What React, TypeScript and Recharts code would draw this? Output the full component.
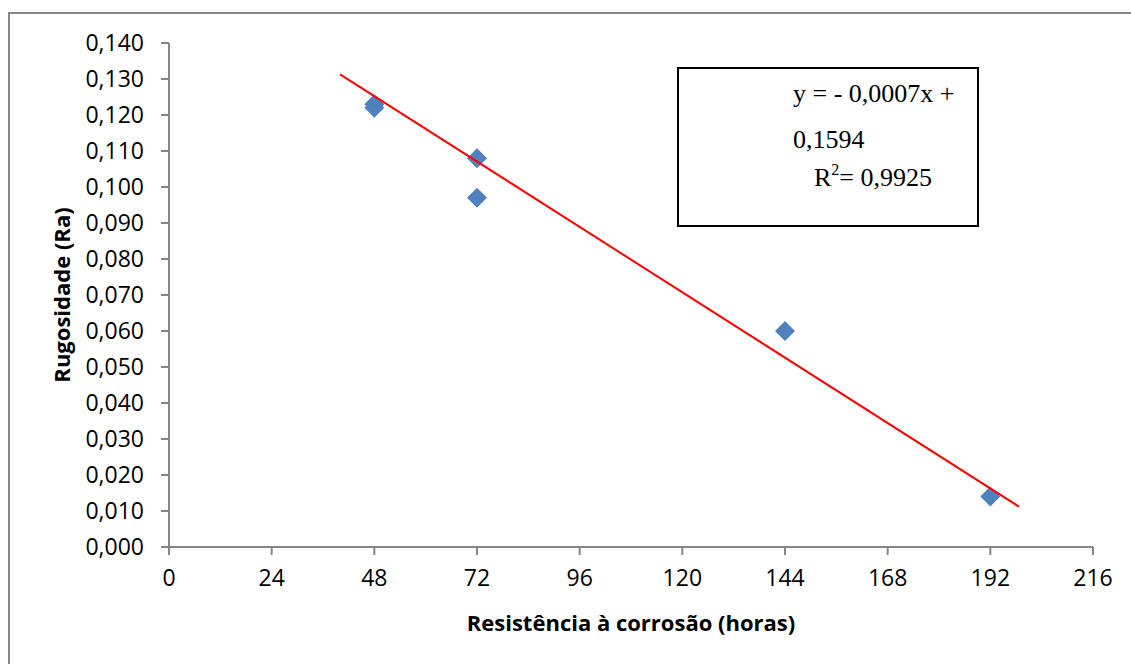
import React from 'react';
import { ScatterChart, Scatter, XAxis, YAxis } from 'recharts';

const hours = [48, 48, 72, 72, 144, 192];
const roughness = [0.123, 0.122, 0.108, 0.097, 0.06, 0.014];
const trendX = [40, 198.7];
const trendY = [0.1313, 0.0112];
const xTicks = [0, 24, 48, 72, 96, 120, 144, 168, 192, 216];
const yTicks = [0, 0.01, 0.02, 0.03, 0.04, 0.05, 0.06, 0.07, 0.08, 0.09, 0.1, 0.11, 0.12, 0.13, 0.14];

const points = hours.map((x, i) => ({ x, y: roughness[i] }));
const trend = trendX.map((x, i) => ({ x, y: trendY[i] }));

const AXIS = '#868686';
const FONT = '"Open Sans", "Noto Sans", sans-serif';

const Diamond = (props: any) => {
  const { cx, cy } = props;
  if (cx == null || cy == null) return null;
  const r = 10;
  return (
    <polygon
      points={`${cx},${cy - r} ${cx + r},${cy} ${cx},${cy + r} ${cx - r},${cy}`}
      fill="#4F81BD"
    />
  );
};

const YLabel = (props: any) => {
  const { viewBox } = props;
  const cx = viewBox.x + 61;
  const cy = viewBox.y + viewBox.height / 2;
  return (
    <text
      x={cx}
      y={cy}
      transform={`rotate(-90, ${cx}, ${cy})`}
      textAnchor="middle"
      dominantBaseline="central"
      fontFamily={FONT}
      fontWeight="bold"
      fontSize={22}
      fill="#000"
    >
      Rugosidade (Ra)
    </text>
  );
};

const XLabel = (props: any) => {
  const { viewBox } = props;
  const cx = viewBox.x + viewBox.width / 2;
  const cy = viewBox.y + 75;
  return (
    <text
      x={cx}
      y={cy}
      textAnchor="middle"
      dominantBaseline="central"
      fontFamily={FONT}
      fontWeight="bold"
      fontSize={22}
      fill="#000"
    >
      Resistência à corrosão (horas)
    </text>
  );
};

export default function App() {
  return (
    <div
      style={{
        position: 'fixed',
        left: 0,
        top: 0,
        width: 1131,
        height: 664,
        background: '#fff',
        overflow: 'hidden',
      }}
    >
      <div
        style={{
          position: 'absolute',
          left: 8,
          top: 12,
          width: 1200,
          height: 700,
          borderLeft: `2px solid ${AXIS}`,
          borderTop: `2px solid ${AXIS}`,
          boxSizing: 'border-box',
        }}
      />
      <div style={{ position: 'absolute', left: 0, top: 0 }}>
        <ScatterChart width={1131} height={664} margin={{ top: 43, right: 38, bottom: 0, left: 0 }}>
          <XAxis
            type="number"
            dataKey="x"
            domain={[0, 216]}
            ticks={xTicks}
            interval={0}
            height={117}
            axisLine={{ stroke: AXIS, strokeWidth: 2 }}
            tickLine={{ stroke: AXIS, strokeWidth: 2 }}
            tickSize={8}
            tickMargin={15}
            tick={{ fill: '#000', fontSize: 23, fontFamily: FONT }}
            label={<XLabel />}
            allowDataOverflow
          />
          <YAxis
            type="number"
            dataKey="y"
            domain={[0, 0.14]}
            ticks={yTicks}
            interval={0}
            width={169}
            axisLine={{ stroke: AXIS, strokeWidth: 2 }}
            tickLine={{ stroke: AXIS, strokeWidth: 2 }}
            tickSize={8}
            tickMargin={17}
            tickFormatter={(v: number) => v.toFixed(3).replace('.', ',')}
            tick={{ fill: '#000', fontSize: 23, fontFamily: FONT }}
            label={<YLabel />}
            allowDataOverflow
          />
          <Scatter data={points} shape={<Diamond />} isAnimationActive={false} />
          <Scatter
            data={trend}
            line={{ stroke: '#FF0000', strokeWidth: 2 }}
            lineType="joint"
            shape={() => null}
            isAnimationActive={false}
          />
        </ScatterChart>
      </div>
      <div
        style={{
          position: 'absolute',
          left: 677,
          top: 67,
          width: 302,
          height: 160,
          border: '2px solid #000',
          boxSizing: 'border-box',
          fontFamily: '"Liberation Serif", "Times New Roman", serif',
          fontSize: 26,
          lineHeight: '30px',
          color: '#000',
          background: '#fff',
        }}
      >
        <div style={{ position: 'absolute', left: 114, top: 10, whiteSpace: 'nowrap' }}>y = - 0,0007x +</div>
        <div style={{ position: 'absolute', left: 114, top: 56, whiteSpace: 'nowrap' }}>0,1594</div>
        <div style={{ position: 'absolute', left: 135, top: 94, whiteSpace: 'nowrap' }}>
          R<span style={{ fontSize: 16, position: 'relative', top: -11 }}>2</span>= 0,9925
        </div>
      </div>
    </div>
  );
}
